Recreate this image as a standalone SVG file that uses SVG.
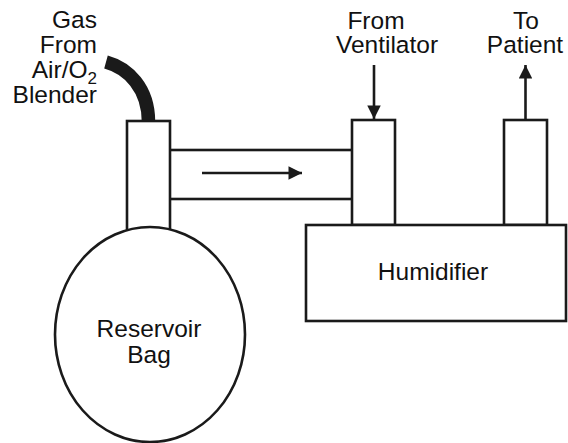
<svg xmlns="http://www.w3.org/2000/svg" width="568" height="443" viewBox="0 0 568 443">
<style>
.s{fill:#fff;stroke:#1a1a1a;stroke-width:2.6}
.t{font-family:"Liberation Sans",Arial,sans-serif;font-size:24.5px;fill:#111}
.c{stroke:#1a1a1a;stroke-width:2.6;fill:none}
</style>
<defs>
<marker id="ah" viewBox="0 0 10 10" refX="10" refY="5" markerWidth="8" markerHeight="5.2" markerUnits="strokeWidth" orient="auto">
<path d="M0,0 L10,5 L0,10 Z" fill="#1a1a1a"/>
</marker>
</defs>
<rect width="568" height="443" fill="#fff"/>
<g id="gas-source">
<text class="t" text-anchor="end"><tspan x="97" y="28">Gas</tspan><tspan x="97" y="53">From</tspan><tspan x="97" y="78">Air/O<tspan font-size="17" dy="6">2</tspan></tspan><tspan x="97" y="103">Blender</tspan></text>
<path d="M106,62 C128,68 148.5,88 148.5,122" fill="none" stroke="#1a1a1a" stroke-width="13.5"/>
</g>
<g id="connecting-tube">
<rect class="s" x="160" y="150" width="200" height="49"/>
</g>
<g id="blender-port">
<rect class="s" x="127" y="121" width="43" height="115"/>
</g>
<g id="reservoir-bag">
<ellipse class="s" cx="150" cy="334.5" rx="95" ry="107.5"/>
<text class="t" text-anchor="middle"><tspan x="149" y="337">Reservoir</tspan><tspan x="149" y="363">Bag</tspan></text>
</g>
<g id="ventilator-port">
<rect class="s" x="352" y="120" width="43" height="105"/>
<text class="t" text-anchor="middle"><tspan x="376" y="29">From</tspan><tspan x="387" y="53">Ventilator</tspan></text>
</g>
<g id="patient-port">
<rect class="s" x="504" y="120" width="43" height="105"/>
<text class="t" text-anchor="middle"><tspan x="526" y="29">To</tspan><tspan x="525" y="53">Patient</tspan></text>
</g>
<g id="humidifier">
<rect class="s" x="306" y="225" width="260" height="96"/>
<text class="t" x="433" y="280" text-anchor="middle">Humidifier</text>
</g>
<g id="connectors">
<line class="c" x1="202" y1="173" x2="302" y2="173" marker-end="url(#ah)"/>
<line class="c" x1="374" y1="65" x2="374" y2="119" marker-end="url(#ah)"/>
<line class="c" x1="525.5" y1="120" x2="525.5" y2="65" marker-end="url(#ah)"/>
</g>
</svg>
